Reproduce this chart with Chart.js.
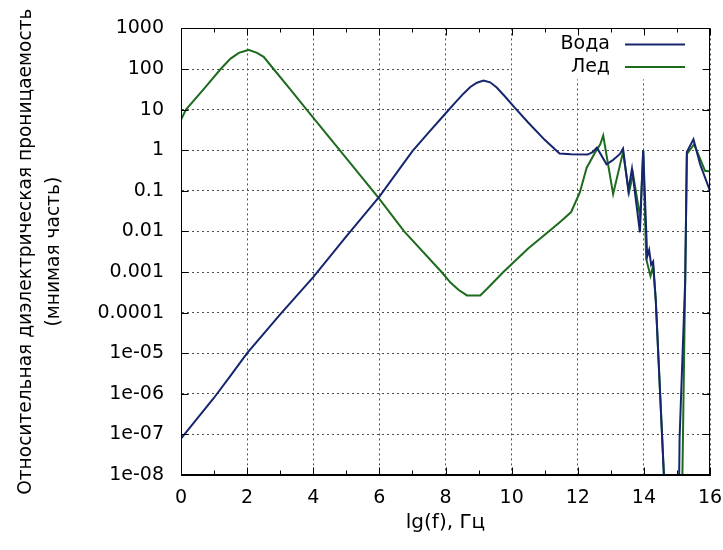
<!DOCTYPE html>
<html>
<head>
<meta charset="utf-8">
<script src="https://cdn.jsdelivr.net/npm/chart.js@4/dist/chart.umd.min.js"></script>
<style>
  body { margin: 0; background: #ffffff; }
  .chart-box { width: 723px; height: 550px; }
</style>
</head>
<body>
<div class="chart-box"><canvas id="permittivity"></canvas></div>
<script>
// water (Вода) - imaginary part of relative permittivity vs lg(f)
const waterX = [0, 0.5, 1, 1.5, 2, 3, 4, 5, 6, 7, 7.5, 8, 8.3, 8.55, 8.75, 8.95, 9.15, 9.35, 9.55, 9.8, 10.1, 10.5, 11, 11.45,
  11.8, 12.3, 12.45, 12.58, 12.87, 13.05, 13.27, 13.37, 13.53, 13.64, 13.88, 13.98, 14.1, 14.16, 14.22, 14.28, 14.36,
  14.72, 15.04, 15.08, 15.25, 15.3, 15.5, 15.7, 16];
const waterY = [7.9e-8, 2.5e-7, 8e-7, 2.8e-6, 1e-5, 9e-5, 7.5e-4, 7.5e-3, 7.2e-2, 0.95, 2.8, 8, 15, 25, 36, 46, 52, 47, 35, 21, 11, 4.8, 1.8, 0.83,
  0.8, 0.78, 0.9, 1.15, 0.45, 0.56, 0.8, 1.1, 0.1, 0.35, 0.0095, 1.0, 2.4e-3, 3.5e-3, 1.5e-3, 1.8e-3, 2e-4,
  1e-10, 1e-10, 8e-8, 6.3e-4, 0.9, 1.85, 0.45, 0.1];

// ice (Лед)
const iceX = [0, 0.15, 0.7, 1.2, 1.5, 1.75, 2.04, 2.3, 2.5, 2.8, 3.3, 3.8, 4.8, 5.97, 6.75, 7.88, 8.15, 8.4, 8.65, 9.05, 9.25, 9.75,
  10.5, 11.16, 11.5, 11.8, 12.06, 12.27, 12.52, 12.68, 12.77, 13.07, 13.37, 13.55, 13.67, 13.89, 13.98, 14.07, 14.2, 14.28, 14.36,
  14.72, 15.13, 15.25, 15.3, 15.52, 15.85, 16];
const iceY = [5.6, 10, 33, 100, 180, 250, 295, 250, 200, 100, 32, 10, 1.0, 0.068, 0.01, 1e-3, 5.5e-4, 3.6e-4, 2.65e-4, 2.65e-4, 3.8e-4, 1e-3,
  3.8e-3, 1.05e-2, 1.8e-2, 3e-2, 0.09, 0.37, 0.87, 1.4, 2.3, 0.083, 0.9, 0.09, 0.26, 0.022, 1.0, 2.1e-3, 8e-4, 1.4e-3, 2e-4,
  1e-10, 1e-10, 6.3e-4, 0.8, 1.4, 0.31, 0.3];

const xTickValues = [0, 1, 2, 3, 4, 5, 6, 7, 8, 9, 10, 11, 12, 13, 14, 15, 16];
const xTickLabels = ['0', '', '2', '', '4', '', '6', '', '8', '', '10', '', '12', '', '14', '', '16'];
const yTickValues = [1000, 100, 10, 1, 0.1, 0.01, 0.001, 0.0001, 1e-5, 1e-6, 1e-7, 1e-8];
const yTickLabels = ['1000', '100', '10', '1', '0.1', '0.01', '0.001', '0.0001', '1e-05', '1e-06', '1e-07', '1e-08'];

const fontFamily = "'DejaVu Sans', sans-serif";
const waterColor = '#16266e';
const iceColor = '#1d6b1d';
const gridColor = '#505050';

function toPoints(xs, ys) {
  return xs.map((x, i) => ({x: x, y: ys[i]}));
}

// gnuplot look: full box, inward ticks, key in the top right corner
const frameAndKey = {
  id: 'frameAndKey',
  beforeDatasetsDraw: (chart) => {
    const {ctx, chartArea} = chart;
    ctx.save();
    ctx.fillStyle = '#ffffff';
    ctx.fillRect(chartArea.right - 198, chartArea.top + 1, 197, 50);
    ctx.restore();
  },
  afterDatasetsDraw: (chart) => {
    const {ctx, chartArea, scales} = chart;
    const left = Math.round(chartArea.left) + 0.5;
    const right = Math.round(chartArea.right) - 0.5;
    const top = Math.round(chartArea.top) + 0.5;
    const bottom = Math.round(chartArea.bottom) - 0.5;
    ctx.save();
    ctx.strokeStyle = '#000000';
    ctx.lineWidth = 1;
    ctx.strokeRect(left, top, right - left, bottom - top);
    ctx.beginPath();
    scales.x.ticks.forEach((tick, i) => {
      const px = Math.round(scales.x.getPixelForValue(tick.value)) + 0.5;
      const len = xTickLabels[i] ? 7 : 4;
      ctx.moveTo(px, bottom);
      ctx.lineTo(px, bottom - len);
      ctx.moveTo(px, top);
      ctx.lineTo(px, top + len);
    });
    scales.y.ticks.forEach((tick) => {
      const py = Math.round(scales.y.getPixelForValue(tick.value)) + 0.5;
      ctx.moveTo(left, py);
      ctx.lineTo(left + 7, py);
      ctx.moveTo(right, py);
      ctx.lineTo(right - 7, py);
    });
    ctx.stroke();

    ctx.font = '19px ' + fontFamily;
    ctx.textAlign = 'right';
    ctx.textBaseline = 'middle';
    chart.data.datasets.forEach((ds, i) => {
      const y = chartArea.top + 16 + i * 22.5;
      ctx.fillStyle = '#000000';
      ctx.fillText(ds.label, chartArea.right - 100, y);
      ctx.strokeStyle = ds.borderColor;
      ctx.lineWidth = 2;
      ctx.beginPath();
      ctx.moveTo(chartArea.right - 85, y);
      ctx.lineTo(chartArea.right - 25, y);
      ctx.stroke();
    });
    ctx.restore();
  }
};

new Chart(document.getElementById('permittivity'), {
  type: 'line',
  data: {
    datasets: [{
      label: 'Вода',
      data: toPoints(waterX, waterY),
      borderColor: waterColor,
      backgroundColor: waterColor,
      borderWidth: 2,
      pointRadius: 0,
      tension: 0,
      fill: false,
    }, {
      label: 'Лед',
      data: toPoints(iceX, iceY),
      borderColor: iceColor,
      backgroundColor: iceColor,
      borderWidth: 2,
      pointRadius: 0,
      tension: 0,
      fill: false,
    }]
  },
  options: {
    responsive: true,
    maintainAspectRatio: false,
    animation: false,
    layout: {
      padding: {top: 27, right: 13, left: 0, bottom: 0}
    },
    scales: {
      x: {
        type: 'linear',
        min: 0,
        max: 16,
        afterBuildTicks: (scale) => {
          scale.ticks = xTickValues.map(v => ({value: v}));
        },
        afterFit: (scale) => {
          scale.height = 75;
          scale.paddingLeft = 0;
          scale.paddingRight = 0;
        },
        ticks: {
          autoSkip: false,
          maxRotation: 0,
          padding: 12,
          color: '#000000',
          font: {family: fontFamily, size: 19},
          callback: (value, index) => xTickLabels[index]
        },
        grid: {
          drawTicks: false,
          lineWidth: 1,
          color: (c) => (c.tick && c.tick.value % 2 === 0) ? gridColor : 'rgba(0,0,0,0)'
        },
        border: {display: true, color: '#000000', width: 1, dash: [2, 3]},
        title: {
          display: true,
          text: 'lg(f), Гц',
          color: '#000000',
          font: {family: fontFamily, size: 20},
          padding: {top: 0, bottom: 15}
        }
      },
      y: {
        type: 'logarithmic',
        min: 1e-8,
        max: 1000,
        afterBuildTicks: (scale) => {
          scale.ticks = yTickValues.map(v => ({value: v}));
        },
        afterFit: (scale) => {
          scale.width = 181;
        },
        ticks: {
          autoSkip: false,
          padding: 17,
          color: '#000000',
          font: {family: fontFamily, size: 19},
          callback: (value, index) => yTickLabels[index]
        },
        grid: {
          drawTicks: false,
          lineWidth: 1,
          color: gridColor
        },
        border: {display: true, color: '#000000', width: 1, dash: [2, 3]},
        title: {
          display: true,
          text: ['Относительная диэлектрическая проницаемость', '(мнимая часть)'],
          color: '#000000',
          font: {family: fontFamily, size: 18.6, lineHeight: 1.5},
          padding: {top: 12, bottom: 0}
        }
      }
    },
    plugins: {
      legend: {display: false},
      tooltip: {enabled: false}
    }
  },
  plugins: [frameAndKey],
});
</script>
</body>
</html>
